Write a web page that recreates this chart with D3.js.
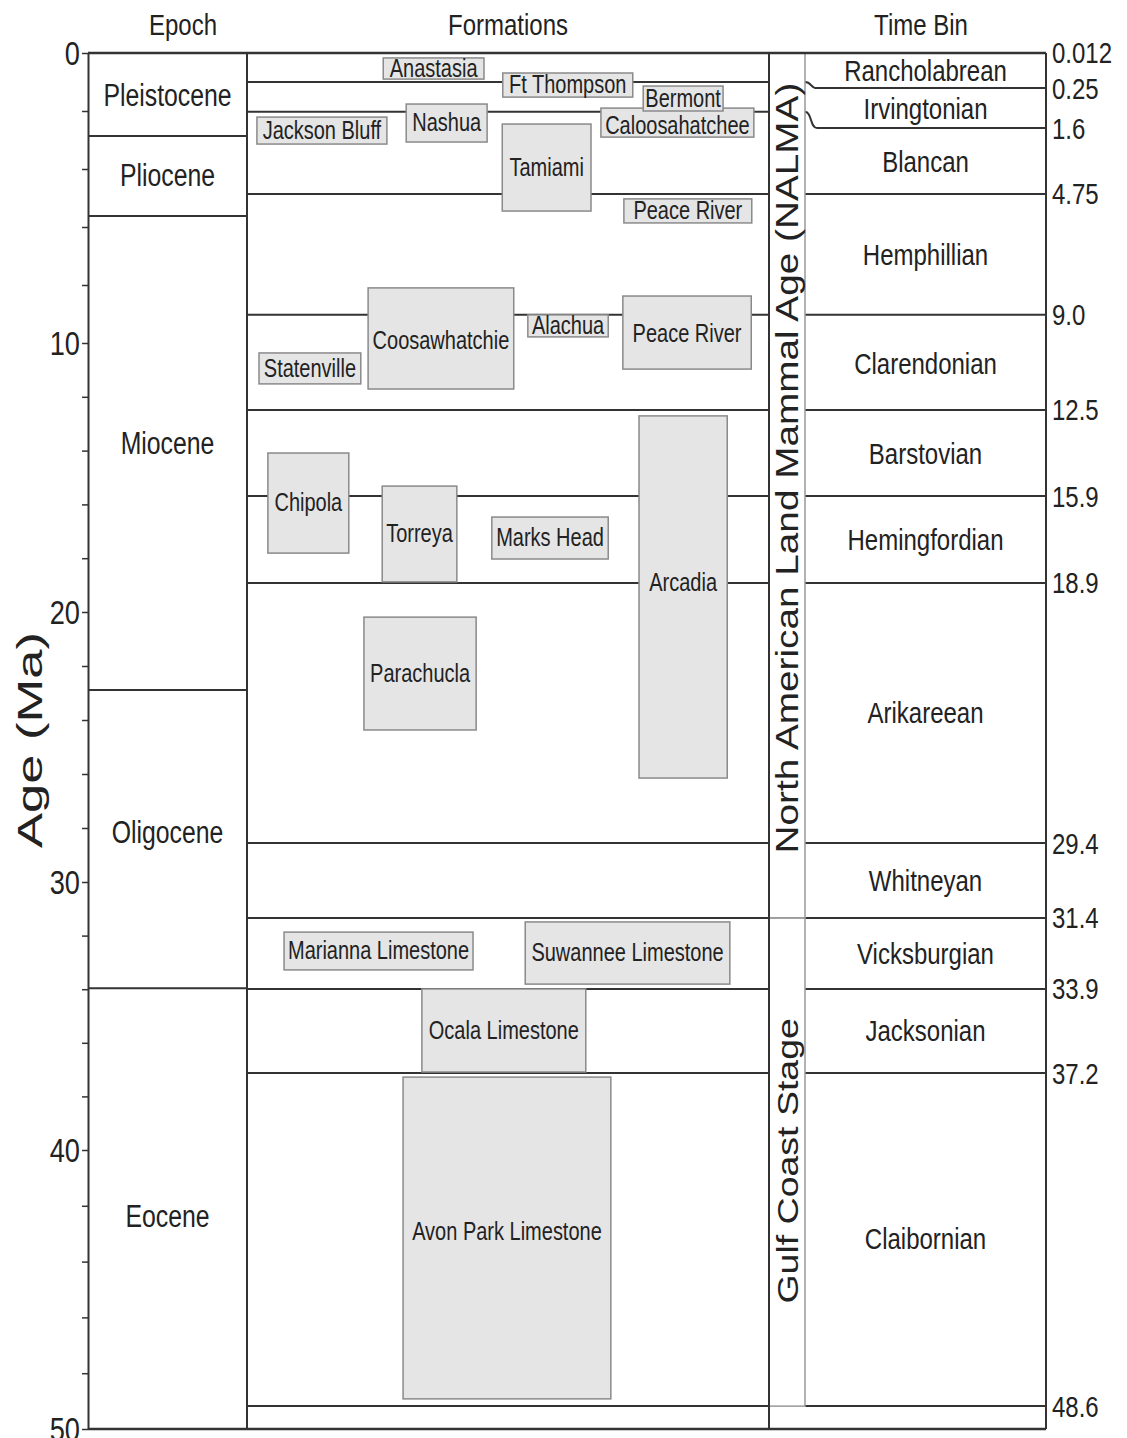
<!DOCTYPE html>
<html>
<head>
<meta charset="utf-8">
<script src="https://cdn.jsdelivr.net/npm/d3@7"></script>
<style>
body { margin: 0; background: #fff; }
text { font-family: "Liberation Sans", Arial, sans-serif; fill: #222; }
</style>
</head>
<body>
<svg id="chart" width="1127" height="1438"></svg>
<script>
// epochs: names, drawn boundaries and label positions on the age axis (Ma)
var epochNames = ["Pleistocene", "Pliocene", "Miocene", "Oligocene", "Eocene"];
var epochBounds = [0, 2.86, 5.62, 22.89, 33.96, 50];
var epochLabelAge = [1.48, 4.24, 13.75, 28.18, 42.37];

// time bins (NALMA / Gulf coast stages)
var binNames = ["Rancholabrean", "Irvingtonian", "Blancan", "Hemphillian", "Clarendonian", "Barstovian",
	"Hemingfordian", "Arikareean", "Whitneyan", "Vicksburgian", "Jacksonian", "Claibornian"];
var binAgeLabels = ["0.012", "0.25", "1.6", "4.75", "9.0", "12.5", "15.9", "18.9", "29.4", "31.4", "33.9", "37.2", "48.6"];
// where each boundary is drawn in the time bin column and in the formations column
var binBounds = [0, 1.21, 2.59, 4.86, 9.03, 12.49, 15.69, 18.92, 28.56, 31.34, 33.99, 37.13, 49.18];
var fmBounds = [0, 1.00, 2.03, 4.86, 9.03, 12.49, 15.69, 18.92, 28.56, 31.34, 33.99, 37.13, 49.18];

var stageNames = ["North American Land Mammal Age (NALMA)", "Gulf Coast Stage"];
var stageTop = [0, 31.34];
var stageBase = [31.34, 49.18];
var stageLabelAge = [14.65, 40.39];

// formations: age range (drawn) and horizontal extent (% of the formations column)
var fmNames = ["Anastasia", "Ft Thompson", "Caloosahatchee", "Bermont", "Nashua", "Jackson Bluff", "Tamiami",
	"Peace River", "Coosawhatchie", "Alachua", "Peace River", "Statenville", "Chipola", "Torreya", "Marks Head",
	"Arcadia", "Parachucla", "Marianna Limestone", "Suwannee Limestone", "Ocala Limestone", "Avon Park Limestone"];
var fmTop = [0.17, 0.69, 1.90, 1.14, 1.76, 2.21, 2.45, 5.03, 8.10, 9.03, 8.38, 10.37, 14.09, 15.32, 16.47,
	12.71, 20.19, 31.87, 31.49, 33.99, 37.28];
var fmBase = [0.90, 1.52, 2.90, 2.00, 3.07, 3.14, 5.45, 5.86, 11.71, 9.79, 10.97, 11.52, 17.81, 18.88, 18.03,
	26.15, 24.37, 33.28, 33.81, 37.09, 48.92];
var fmLeft = [26.1, 49.0, 67.8, 75.9, 30.5, 1.9, 48.9, 72.2, 23.2, 53.8, 72.0, 2.3, 4.0, 25.9, 46.9,
	75.1, 22.4, 7.1, 53.3, 33.5, 29.9];
var fmRight = [45.4, 73.9, 97.1, 91.2, 46.0, 26.8, 65.9, 96.7, 51.1, 69.2, 96.6, 21.8, 19.5, 40.2, 69.2,
	92.0, 43.9, 43.3, 92.5, 64.9, 69.7];
// labels not at box middle
var fmLabelAge = { "Arcadia": 18.92, "Avon Park Limestone": 42.94, "Caloosahatchee": 2.5 };

// the hand drawn age axis is not quite even: where its labelled ticks sit
var axisMajor = [0, 10, 20, 30, 40, 50];
var axisMajorPx = [53, 343, 612, 882, 1150, 1429];
var axisTicks = d3.range(0, 51, 2);

var svg = d3.select("#chart");
var col = { axis: 88, epoch: 247, fm: 769, stage: 805, bin: 1046 };
var y = d3.scaleLinear().domain(axisMajor).range(axisMajorPx);
var fx = d3.scaleLinear().domain([0, 100]).range([col.epoch, col.fm]);
var SX = 0.8; // the figure is squeezed horizontally
var dark = "#333";

function hText(g, x, yy, str, size, anchor) {
	return g.append("text")
		.attr("transform", "translate(" + x + "," + yy + ") scale(" + SX + ",1)")
		.attr("text-anchor", anchor || "middle")
		.attr("dominant-baseline", "central")
		.style("font-size", size + "px")
		.text(str);
}
function vText(g, x, yy, str, size, stretch) {
	return g.append("text")
		.attr("transform", "translate(" + x + "," + yy + ") rotate(-90) scale(" + (stretch || 1 / SX) + ",1)")
		.attr("text-anchor", "middle")
		.attr("dominant-baseline", "central")
		.style("font-size", size + "px")
		.text(str);
}
function hLine(g, x1, x2, yy, color, w) {
	g.append("line").attr("x1", x1).attr("x2", x2).attr("y1", yy).attr("y2", yy)
		.attr("stroke", color).attr("stroke-width", w);
}

var lines = svg.append("g");

// formation column boundaries
fmBounds.slice(1).forEach(function(b) {
	hLine(lines, col.epoch, col.fm, y(b), dark, 2);
});
// epoch boundaries
epochBounds.slice(1, -1).forEach(function(b) {
	hLine(lines, col.axis, col.epoch, y(b), dark, 2);
});
// time bin boundaries, with a little jog where they are offset from the formations column
binBounds.slice(1).forEach(function(b, i) {
	var f = fmBounds[i + 1];
	if (f !== b) {
		var p = d3.path();
		p.moveTo(col.stage, y(f));
		p.bezierCurveTo(col.stage + 7, y(f), col.stage + 5, y(b), col.stage + 12, y(b));
		p.lineTo(col.bin, y(b));
		lines.append("path").attr("d", p.toString()).attr("fill", "none")
			.attr("stroke", dark).attr("stroke-width", 2);
	}
	else {
		hLine(lines, col.stage, col.bin, y(b), dark, 2);
	}
});

// stage column (NALMA / Gulf Coast)
var stages = svg.append("g");
stageNames.forEach(function(name, i) {
	stages.append("rect")
		.attr("x", col.fm).attr("width", col.stage - col.fm)
		.attr("y", y(stageTop[i])).attr("height", y(stageBase[i]) - y(stageTop[i]))
		.attr("fill", "none").attr("stroke", "#999").attr("stroke-width", 1.5);
});

// frame
var frame = svg.append("g");
[col.epoch, col.fm, col.bin].forEach(function(x) {
	frame.append("line").attr("x1", x).attr("x2", x).attr("y1", y(0)).attr("y2", y(50))
		.attr("stroke", dark).attr("stroke-width", 2);
});
hLine(frame, col.axis, col.bin, y(0), dark, 2.5);
hLine(frame, col.axis, col.bin, y(50), dark, 2.5);

// age axis
var ag = svg.append("g").attr("transform", "translate(" + col.axis + ",0)")
	.call(d3.axisLeft(y).tickValues(axisTicks).tickSize(6).tickSizeOuter(0)
		.tickFormat(function(d) { return d % 10 === 0 ? d : ""; }));
ag.attr("font-family", null).attr("font-size", null);
ag.select(".domain").attr("stroke", dark).attr("stroke-width", 2);
ag.selectAll(".tick line").attr("stroke", dark).attr("stroke-width", 1.5);
ag.selectAll(".tick text")
	.attr("x", null).attr("dy", null)
	.attr("transform", "translate(-8,0) scale(" + SX + ",1)")
	.attr("dominant-baseline", "central")
	.style("font-size", "34px");

// formation boxes
var boxes = svg.append("g");
fmNames.forEach(function(name, i) {
	boxes.append("rect")
		.attr("x", fx(fmLeft[i])).attr("width", fx(fmRight[i]) - fx(fmLeft[i]))
		.attr("y", y(fmTop[i])).attr("height", y(fmBase[i]) - y(fmTop[i]))
		.attr("fill", "#e5e5e5").attr("stroke", "#8a8a8a").attr("stroke-width", 1.5);
	var ly = fmLabelAge[name] !== undefined ? fmLabelAge[name] : (fmTop[i] + fmBase[i]) / 2;
	hText(boxes, (fx(fmLeft[i]) + fx(fmRight[i])) / 2, y(ly), name, 25);
});

// labels
var labels = svg.append("g");
epochNames.forEach(function(name, i) {
	hText(labels, (col.axis + col.epoch) / 2, y(epochLabelAge[i]), name, 31);
});
binNames.forEach(function(name, i) {
	hText(labels, (col.stage + col.bin) / 2, y((binBounds[i] + binBounds[i + 1]) / 2), name, 30);
});
binAgeLabels.forEach(function(lab, i) {
	hText(labels, col.bin + 6, y(binBounds[i]), lab, 30, "start");
});
stageNames.forEach(function(name, i) {
	vText(labels, (col.fm + col.stage) / 2, y(stageLabelAge[i]), name, i === 0 ? 31 : 30);
});

// headers
hText(labels, 183, 25, "Epoch", 30);
hText(labels, (col.epoch + col.fm) / 2, 25, "Formations", 30);
hText(labels, 921, 25, "Time Bin", 30);
vText(labels, 30, 740, "Age (Ma)", 35, 1.5);
</script>
</body>
</html>
